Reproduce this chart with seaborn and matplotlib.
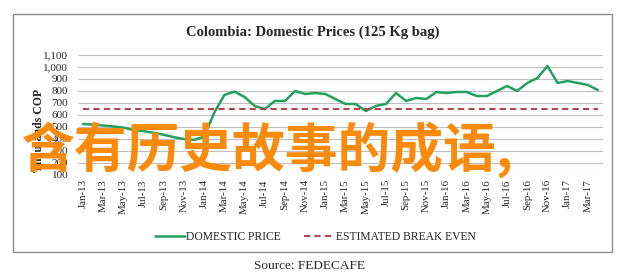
import matplotlib
matplotlib.use("Agg")
import matplotlib.pyplot as plt
import seaborn as sns
import pandas as pd
import numpy as np
from matplotlib.lines import Line2D
from matplotlib.patches import Rectangle

# ---- data ----
domestic_price = [525, 520, 512, 505, 495, 475, 465, 452, 435, 415, 400, 392,
                  420, 620, 767, 795, 750, 675, 650, 717, 717, 800, 775, 783,
                  775, 733, 692, 692, 633, 675, 692, 783, 717, 742, 733, 792,
                  783, 792, 792, 758, 758, 800, 842, 800, 867, 908, 1008, 867,
                  883, 867, 850, 808]
break_even_value = 650
tick_labels = ["Jan-13", "Mar-13", "May-13", "Jul-13", "Sep-13", "Nov-13",
               "Jan-14", "Mar-14", "May-14", "Jul-14", "Sep-14", "Nov-14",
               "Jan-15", "Mar-15", "May-15", "Jul-15", "Sep-15", "Nov-15",
               "Jan-16", "Mar-16", "May-16", "Jul-16", "Sep-16", "Nov-16",
               "Jan-17", "Mar-17"]
y_ticks = [100, 200, 300, 400, 500, 600, 700, 800, 900, 1000, 1100]
title = "Colombia: Domestic Prices (125 Kg bag)"
series_names = ["DOMESTIC PRICE", "ESTIMATED BREAK EVEN"]
overlay_text = "含有历史故事的成语,"
source_text = "Source: FEDECAFE"

sns.set_theme(style="white")
plt.rcParams['font.family'] = ['Liberation Serif', 'DejaVu Serif']

W, H = 622, 277
fig = plt.figure(figsize=(W / 100, H / 100), dpi=100)

def fx(px):
    return px / W

def fy(py):
    return 1 - py / H

# outer frame
fig.patches.append(Rectangle((fx(13), fy(252)), fx(612) - fx(13), fy(14) - fy(252),
                             transform=fig.transFigure, fill=False,
                             edgecolor="#8c8c8c", linewidth=1.0))

ax = fig.add_axes([fx(78), fy(175), fx(603) - fx(78), fy(55) - fy(175)])

n = len(domestic_price)
df = pd.DataFrame({
    "idx": np.arange(n),
    "DOMESTIC PRICE": domestic_price,
    "ESTIMATED BREAK EVEN": [break_even_value] * n,
})

green = "#23A05F"
red = "#B4454F"
sns.lineplot(data=df, x="idx", y="DOMESTIC PRICE", ax=ax, color=green, linewidth=1.8)
sns.lineplot(data=df, x="idx", y="ESTIMATED BREAK EVEN", ax=ax, color=red,
             linewidth=1.5, linestyle=(0, (3, 2)))

ax.set_xlim(-0.5, n - 0.5)
ax.set_ylim(100, 1100)
ax.set_yticks(y_ticks)
ax.set_yticklabels([f"{v:,}" for v in y_ticks], fontsize=8)
ax.set_xticks(np.arange(0, 2 * len(tick_labels), 2))
ax.set_xticklabels(tick_labels, rotation=90, fontsize=7.8)
ax.tick_params(axis="y", length=0, pad=7)
ax.tick_params(axis="x", length=0, pad=3)
ax.grid(axis="y", color="#bfbfbf", linewidth=0.8)
ax.grid(axis="x", visible=False)
for s in ax.spines.values():
    s.set_visible(False)
ax.set_xlabel("")
ax.set_ylabel("Thousands COP", fontsize=8.5, fontweight="bold")
ax.yaxis.set_label_coords(-0.062, 0.37)

fig.text(fx(313), fy(32), title, ha="center", va="center", fontsize=10.5,
         fontweight="bold")

handles = [Line2D([0], [0], color=green, linewidth=1.8),
           Line2D([0], [0], color=red, linewidth=1.5, linestyle=(0, (3, 2)))]
fig.legend(handles, series_names, loc="center", bbox_to_anchor=(fx(315), fy(237)),
           ncol=2, frameon=False, fontsize=8.4, handlelength=2.6,
           columnspacing=2.0, handletextpad=0.1)

fig.text(fx(310), fy(266), source_text, ha="center", va="center", fontsize=9.5)

fig.text(fx(22), fy(150), overlay_text, ha="left", va="center", fontsize=38,
         fontweight="bold", color="#FA8A0C",
         family=["Noto Sans CJK SC", "DejaVu Sans"])

fig.savefig("out.png", dpi=100)
